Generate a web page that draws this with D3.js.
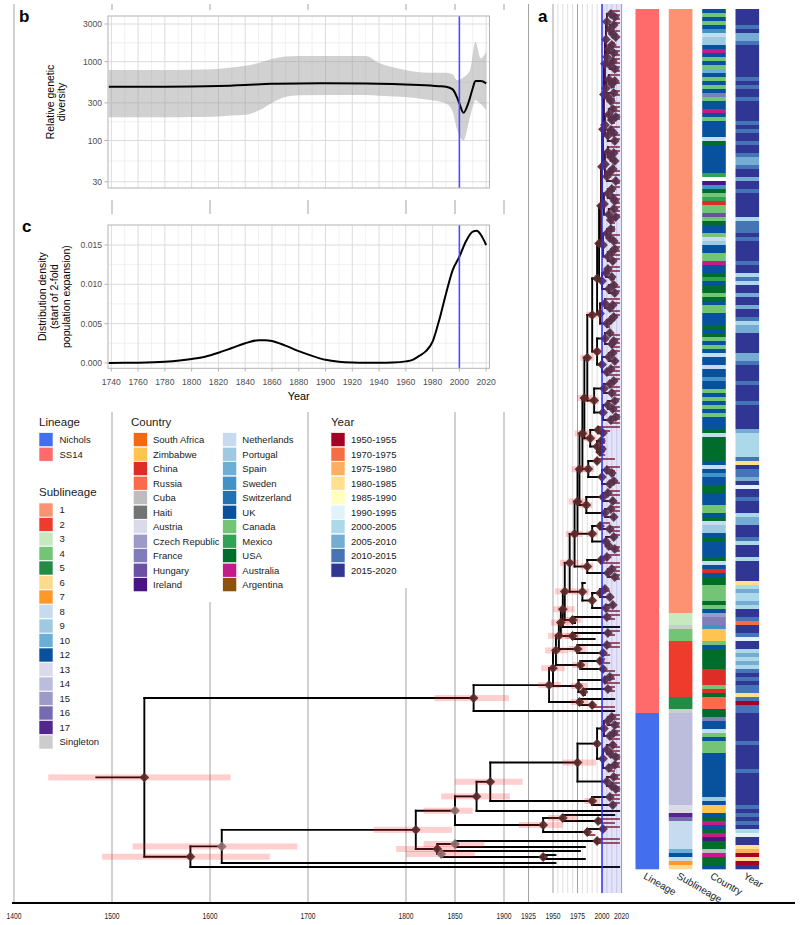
<!DOCTYPE html>
<html><head><meta charset="utf-8">
<script src="https://cdn.jsdelivr.net/npm/d3@7"></script>
<style>
body{margin:0;background:#fff}
svg{display:block;font-family:"Liberation Sans",Arial,Helvetica,sans-serif}
</style></head>
<body><svg id="fig" width="800" height="925"></svg>
<script>
/* ================= DATA ================= */
const treeAxisYears = [1400,1500,1600,1700,1800,1850,1900,1925,1950,1975,2000,2020];
const fineGridYears = [1955,1960,1965,1970,1980,1985,1990,1995,2005,2010,2015];
const rootStemStart = 1483;

// SS14 top comb: clades (t = tip; ")YEAR[lo-hi]" = node date and 95% HPD)
const ss14TopClades = [
 "((t,(t,t)2013)2009,((t,t)2012,(t,(t,t)2014)2011)2008)2005",
 "(((t,t)2010,(t,t)2012)2007,((t,t)2011,(t,t)2013)2008)2005",
 "((t,((t,t)2013,t)2010)2007,((t,t)2012,(t,t)2009)2006)2004",
 "(((t,t)2011,((t,t)2014,t)2010)2007,((t,(t,t)2012)2009,(t,t)2013)2006)2003",
 "((t,((t,t)2012,(t,t)2013)2009)2006,(((t,t)2011,t)2008,(t,t)2014)2005)2003",
 "(((t,t)2010,(t,(t,t)2013)2011)2006,((t,t)2012,((t,t)2014,t)2009)2007)2002",
 "(((t,t)2009,(t,(t,t)2012)2008)2005,(((t,t)2013,t)2010,(t,t)2011)2006)2001",
 "(((t,t)2006,(t,t)2010)2004,((t,t)2012,(t,t)2013)2007)2000",
 "((t,((t,t)2011,t)2008)2003,(((t,t)2012,t)2009,t)2005)1998"
];
const ss14TopNodes = ["2004","2003","2002","2001","2000","1999","1997","1995"];

const ss14MidClades = [
 "(((t,t)2008,((t,t)2012,t)2010)2003,(((t,t)2011,(t,t)2013)2007,((t,t)2009,t)2005)2000)1995[1989-1999]",
 "((((t,t)2012,t)2008,(t,t)2010)2002,(((t,t)2013,(t,t)2011)2006,((t,t)2014,t)2009)2001)1992[1986-1997]",
 "((t,(t,t)2001)1996,((t,t)1999,((t,t)2000,t)1998)1995)1988[1981-1994]",
 "((t,t)1995,((t,(t,t)2010)2005,((t,t)2012,t)2008)2000)1986[1979-1992]",
 "(((t,t)2006,(t,t)2011)2001,((t,t)2009,(t,t)2012)2003)1984[1977-1990]",
 "((t,(t,t)2008)1998,((t,t)2012,(t,(t,t)2013)2007)2004)1990[1984-1996]",
 "(((t,t)2005,t)1999,((t,t)2010,(t,t)2013)2006)1985[1978-1991]",
 "(t,(((t,t)2003,(t,t)2008)1998,((t,t)2011,t)2004)1990)1980[1972-1987]"
];
const ss14MidNodes = ["1990[1984-1995]","1985[1978-1992]","1982[1975-1990]","1980[1972-1988]",
 "1977[1969-1985]","1975[1966-1983]","1972[1963-1980]","1967[1957-1976]"];

const ss14LowClades = [
 "((t,t)2005,t)1970[1960-1979]",
 "t",
 "((t,t)2006,t)1970[1962-1978]",
 "((t,t)2005,(t,t)2001)1975[1966-1984]",
 "((t,t)1998,(t,t)2001)1978[1970-1986]",
 "(((t,t)2008,t)2003,((t,t)2006,t)1981)1976[1968-1985]",
 "(t,(t,t)1990)1977[1968-1986]",
 "t"
];
const ss14LowNodes = ["1962[1952-1973]","1960[1950-1972]","1958[1948-1970]","1956[1945-1967]",
 "1953[1942-1965]","1950[1938-1962]","1946[1935-1958]","1869[1829-1905]"];

const nicholsA = "(((((t,t)2010,(t,t)2013)2006,((t,t)2012,t)2008)2002,(((t,t)2011,(t,(t,t)2014)2009)2005,((t,t)2013,t)2007)2001)1995,((t,t)2012,(t,(t,t)2014)2010)2005)1975[1960-1994]";
const nicholsClades = [
 "((t,t)2008,(t,t)2011)1990[1982-1998]",
 "t",
 "((t,(t,t)1996)1960[1945-1975],((t,t)2001,t)1985)1940[1915-1960]",
 "(((t,t)1995,t)1850[1818-1880]*,(t,(t,t)1940)1836[1800-1870]*)1832[1790-1852]",
 "t",
 "t"
];
const nicholsNodes = ["1886[1850-1919]","1872[1836-1906]","1850[1818-1868]*","1810[1767-1847]",
 "1612[1521-1689]*","1580[1490-1661]"];
const rootNode = "1533[1435-1621]";

// per-tip strips (tree order, top to bottom)
const lineageRuns = [["SS14",176],["Nichols",39]];
const sublineageRuns = [["1",151],["3",3],["Singleton",1],["4",3],["2",14],["5",3],["Singleton",1],
 ["14",23],["13",2],["17",1],["16",1],["8",7],["10",1],["12",1],["8",1],["7",1],["6",1]];
const tipCountry =
 "UCUCUWNPPU"+"AUCUCEUCUC"+"UFCUUAUCUU"+"UUNSUUUUUU"+"UM-IWSCMKC"+"CHCSUUCNPU"+"UCCAUUSMUS"+
 "SCSUCCUUUS"+"USCUCUNUUN"+"UUWUUCUCUC"+"UCUUUSNSSS"+"SSSUNUWUUS"+"SUUUCCUSNP"+"PUSUUUUSNU"+
 "KUSSCCCCSC"+"UcFFWYYYCU"+"SSSSSKKKKC"+"KSRRRSSFUU"+"NCUCCCUUUU"+"UUUUUUUPUY"+"YUSAUSAISS"+"BASSU";
const tipYear =
 "jjjjijhhij"+"jjjjjjjiji"+"jjijjjjjij"+"ijjijjihhi"+"jjhjjijjjj"+"jjgiiijijj"+"jjjijjgigj"+
 "jhjjhjjigh"+"hjjjjjhhij"+"jjjijjjjij"+"jjjjjhgggg"+"ggidjiihjf"+"jjijjjghhj"+"jjigjjjgjj"+
 "jjjdghgghg"+"jjibjjifjj"+"ghghgijiji"+"idiaiijjjj"+"jjjijjjjjj"+"ijjjjjjjji"+"jijijgfjjd"+"cadaj";

// legends / palettes
const lineageNames = ["Nichols","SS14"];
const lineageColors = ["#436EEE","#FF6A6A"];
const sublineageNames = ["1","2","3","4","5","6","7","8","9","10","12","13","14","15","16","17","Singleton"];
const sublineageColors = ["#FC9272","#EF3B2C","#C7E9C0","#74C476","#238B45","#FED98E","#FE9929","#C6DBEF",
 "#9ECAE1","#6BAED6","#08519C","#DADAEB","#BCBDDC","#9E9AC8","#756BB1","#54278F","#CCCCCC"];
const countryNames = ["South Africa","Zimbabwe","China","Russia","Cuba","Haiti","Austria","Czech Republic",
 "France","Hungary","Ireland","Netherlands","Portugal","Spain","Sweden","Switzerland","UK","Canada",
 "Mexico","USA","Australia","Argentina"];
const countryCodes = "OYKRBXTcFHINPEWZUCMSAG";
const countryColors = ["#F16913","#FEC44F","#DE2D26","#FB6A4A","#BDBDBD","#737373","#DADAEB","#9E9AC8",
 "#807DBA","#6A51A3","#4A1486","#C6DBEF","#9ECAE1","#6BAED6","#4292C6","#2171B5","#08519C","#74C476",
 "#31A354","#006D2C","#C51B8A","#8C510A"];
const yearBins = ["1950-1955","1970-1975","1975-1980","1980-1985","1985-1990","1990-1995",
 "2000-2005","2005-2010","2010-2015","2015-2020"];
const yearCodes = "abcdefghij";
const yearColors = ["#A50026","#F46D43","#FDAE61","#FEE090","#FFFFBF","#E0F3F8","#ABD9E9","#74ADD1","#4575B4","#313695"];

// panel b: relative genetic diversity (median and 95% HPD)
const divYears  = [1738,1780,1800,1820,1840,1860,1880,1900,1930,1950,1970,1985,1990,1995,1998,2000,2003,2007,2009.6,2012,2016,2020];
const divMedian = [481,481,483,490,505,525,530,531,530,522,505,488,481,445,360,295,225,310,437,567,567,531];
const hpdYears  = [1738,1780,1800,1816,1830,1840,1850,1860,1870,1880,1930,1940,1956,1978,1990,1995,1998,2003,2008,2012,2016,2020];
const hpdLower  = [197,197,198,200,207,212,240,300,355,375,377,370,359,326,295,232,143,100,200,326,290,243];
const hpdUpper  = [783,783,790,800,840,885,960,1080,1160,1180,1180,960,805,723,723,690,585,630,783,1790,1100,1333];
const divTicks  = [30,100,300,1000,3000];
const divMinor  = [55,173,548,1732];

// panel c: density of start of 2-fold expansion
const densYears  = [1738,1760,1780,1800,1810,1820,1830,1840,1850,1855,1860,1870,1880,1890,1900,1910,1920,1930,1940,1950,1960,1965,1970,1975,1980,1985,1990,1995,2000,2005,2010,2013,2016,2020];
const densValues = [0,0.00003,0.00015,0.0005,0.0008,0.0013,0.0019,0.0025,0.0029,0.0029,0.0028,0.0022,0.0015,0.0009,0.0004,0.00015,0.00005,0.00002,0.00002,0.00005,0.0002,0.0004,0.0009,0.0015,0.0027,0.0055,0.0088,0.0118,0.0135,0.0155,0.0167,0.0168,0.0163,0.015];
const densTicks  = [0,0.005,0.010,0.015];
const densMinor  = [0.0025,0.0075,0.0125];
const panelYearTicks = [1740,1760,1780,1800,1820,1840,1860,1880,1900,1920,1940,1960,1980,2000,2020];
const panelYearMinor = [1750,1770,1790,1810,1830,1850,1870,1890,1910,1930,1950,1970,1990,2010];

/* ================= BUILD ================= */
const svg = d3.select("#fig");
function comb(parts, nodes){ let s=parts[0]; for(let k=1;k<parts.length;k++) s="("+s+","+parts[k]+")"+nodes[k-1]; return s; }
const ss14Top = comb(ss14TopClades, ss14TopNodes);
const ss14Mid = comb([ss14Top].concat(ss14MidClades), ss14MidNodes);
const ss14 = comb([ss14Mid].concat(ss14LowClades), ss14LowNodes);
const nichols = comb([nicholsA].concat(nicholsClades), nicholsNodes);
const newick = "("+ss14+","+nichols+")"+rootNode;

function parseTree(str){
  let i=0;
  const num=()=>{const s=i; while(i<str.length && /[0-9.]/.test(str[i])) i++; return parseFloat(str.slice(s,i));};
  const node=()=>{
    if(str[i]==='('){
      i++; const children=[node()];
      while(str[i]===','){ i++; children.push(node()); }
      i++;
      const n={children, date:num()};
      if(str[i]==='['){ i++; const lo=num(); i++; const hi=num(); i++; n.ci=[lo,hi]; }
      if(str[i]==='*'){ i++; n.weak=true; }
      return n;
    }
    i++; return {tip:true};
  };
  return node();
}
const root = d3.hierarchy(parseTree(newick));
const leaves = root.leaves();
const nTips = leaves.length;

const X = d3.scaleLinear().domain([1400,2020]).range([14,621.6]);
const Yrow = d3.scaleLinear().domain([0,nTips-1]).range([11,867]);
const step = Yrow(1)-Yrow(0);
const binMid = b => { const p=b.split("-").map(Number); return (p[0]+p[1])/2; };

leaves.forEach((l,i)=>{
  l.idx=i; l.y=Yrow(i);
  const yc = yearCodes.indexOf(tipYear[i]);
  const d = yc>=0 ? binMid(yearBins[yc]) : 2015;
  l.date = Math.max(d, l.parent ? l.parent.data.date + 0.6 : d);
});
root.eachAfter(n=>{ if(n.children){ n.date=n.data.date; n.y=(n.children[0].y+n.children[n.children.length-1].y)/2; } });

/* ----- background year lines ----- */
const gGrid = svg.append("g");
gGrid.selectAll("line.f").data(fineGridYears).join("line")
  .attr("x1",d=>X(d)).attr("x2",d=>X(d)).attr("y1",4).attr("y2",893)
  .attr("stroke","#dedede").attr("stroke-width",1);
gGrid.selectAll("line.m").data(treeAxisYears.filter(d=>d!==2000)).join("line")
  .attr("x1",d=>X(d)).attr("x2",d=>X(d)).attr("y1",4).attr("y2",d=>d>=1950?893:903)
  .attr("stroke","#a3a3a3").attr("stroke-width",1);

/* ----- white boxes (panels & legends) ----- */
[[15,10,512,190],[15,214,512,198],[118,412,184,190],[314,412,98,176]].forEach(b=>{
  svg.append("rect").attr("x",b[0]).attr("y",b[1]).attr("width",b[2]).attr("height",b[3]).attr("fill","#fff");
});

/* ----- panels b & c ----- */
const px = d3.scaleLinear().domain([1737.5,2022.5]).range([108,489.5]);
function panelGrid(g, top, bottom, hMajor, hMinor, yS){
  g.selectAll("line.vm").data(panelYearMinor).join("line").attr("x1",d=>px(d)).attr("x2",d=>px(d))
   .attr("y1",top).attr("y2",bottom).attr("stroke","#ededed").attr("stroke-width",0.8);
  g.selectAll("line.hm").data(hMinor).join("line").attr("y1",d=>yS(d)).attr("y2",d=>yS(d))
   .attr("x1",108).attr("x2",489.5).attr("stroke","#ededed").attr("stroke-width",0.8);
  g.selectAll("line.vM").data(panelYearTicks).join("line").attr("x1",d=>px(d)).attr("x2",d=>px(d))
   .attr("y1",top).attr("y2",bottom).attr("stroke","#dcdcdc").attr("stroke-width",1);
  g.selectAll("line.hM").data(hMajor).join("line").attr("y1",d=>yS(d)).attr("y2",d=>yS(d))
   .attr("x1",108).attr("x2",489.5).attr("stroke","#dcdcdc").attr("stroke-width",1);
}
// panel b
const yB = d3.scaleLog().domain([25,3790]).range([188,16]);
const gB = svg.append("g");
panelGrid(gB,16,188,divTicks,divMinor,yB);
gB.append("path").datum(hpdYears.map((y,i)=>[y,hpdLower[i],hpdUpper[i]]))
  .attr("d",d3.area().x(d=>px(d[0])).y0(d=>yB(d[1])).y1(d=>yB(d[2])).curve(d3.curveMonotoneX))
  .attr("fill","#999").attr("fill-opacity",0.45);
gB.append("path").datum(divYears.map((y,i)=>[y,divMedian[i]]))
  .attr("d",d3.line().x(d=>px(d[0])).y(d=>yB(d[1])).curve(d3.curveMonotoneX))
  .attr("fill","none").attr("stroke","#000").attr("stroke-width",2);
gB.append("line").attr("x1",px(2000)).attr("x2",px(2000)).attr("y1",16).attr("y2",188)
  .attr("stroke","#4d4dff").attr("stroke-width",1.6);
gB.append("rect").attr("x",108).attr("y",16).attr("width",381.5).attr("height",172)
  .attr("fill","none").attr("stroke","#b3b3b3");
gB.selectAll("line.tk").data(divTicks).join("line").attr("x1",104.5).attr("x2",108)
  .attr("y1",d=>yB(d)).attr("y2",d=>yB(d)).attr("stroke","#b3b3b3");
gB.selectAll("text.tk").data(divTicks).join("text").attr("x",102).attr("y",d=>yB(d)).attr("dy","0.35em")
  .attr("text-anchor","end").attr("font-size",8.6).attr("fill","#4d4d4d").text(d=>d);
gB.append("text").attr("transform","translate(54,102) rotate(-90)").attr("text-anchor","middle")
  .attr("font-size",10.5).text("Relative genetic");
gB.append("text").attr("transform","translate(65,102) rotate(-90)").attr("text-anchor","middle")
  .attr("font-size",10.5).text("diversity");

// panel c
const yC = d3.scaleLinear().domain([-0.00068,0.01754]).range([368.3,225]);
const gC = svg.append("g");
panelGrid(gC,225,368.3,densTicks,densMinor,yC);
gC.append("path").datum(densYears.map((y,i)=>[y,densValues[i]]))
  .attr("d",d3.line().x(d=>px(d[0])).y(d=>yC(d[1])).curve(d3.curveMonotoneX))
  .attr("fill","none").attr("stroke","#000").attr("stroke-width",2);
gC.append("line").attr("x1",px(2000)).attr("x2",px(2000)).attr("y1",225).attr("y2",368.3)
  .attr("stroke","#4d4dff").attr("stroke-width",1.6);
gC.append("rect").attr("x",108).attr("y",225).attr("width",381.5).attr("height",143.3)
  .attr("fill","none").attr("stroke","#b3b3b3");
gC.selectAll("line.tky").data(densTicks).join("line").attr("x1",104.5).attr("x2",108)
  .attr("y1",d=>yC(d)).attr("y2",d=>yC(d)).attr("stroke","#b3b3b3");
gC.selectAll("text.tky").data(densTicks).join("text").attr("x",102).attr("y",d=>yC(d)).attr("dy","0.35em")
  .attr("text-anchor","end").attr("font-size",8.6).attr("fill","#4d4d4d").text(d=>d3.format(".3f")(d));
gC.selectAll("line.tkx").data(panelYearTicks).join("line").attr("y1",368.3).attr("y2",371.5)
  .attr("x1",d=>px(d)).attr("x2",d=>px(d)).attr("stroke","#b3b3b3");
gC.selectAll("text.tkx").data(panelYearTicks).join("text").attr("x",d=>px(d)).attr("y",385)
  .attr("text-anchor","middle").attr("font-size",8.6).attr("fill","#4d4d4d").text(d=>d);
gC.append("text").attr("x",298.7).attr("y",400).attr("text-anchor","middle").attr("font-size",10.8).text("Year");
["Distribution density","(start of 2-fold","population expansion)"].forEach((t,k)=>{
  gC.append("text").attr("transform",`translate(${46+12*k},296.6) rotate(-90)`).attr("text-anchor","middle")
    .attr("font-size",10.5).text(t);
});

// panel letters
[["b",19,22],["c",22,232],["a",538,22]].forEach(p=>{
  svg.append("text").attr("x",p[1]).attr("y",p[2]).attr("font-size",17).attr("font-weight","bold").text(p[0]);
});

/* ----- legends ----- */
function legend(x, titleY, title, names, colors, rowY0, labelX){
  const g = svg.append("g");
  if(title) g.append("text").attr("x",x).attr("y",titleY).attr("font-size",11.5).attr("fill","#1a1a1a").text(title);
  names.forEach((n,k)=>{
    const cy = rowY0 + 14.5*k;
    g.append("rect").attr("x",x).attr("y",cy-7).attr("width",14).attr("height",14)
      .attr("fill",colors[k]).attr("stroke","#fff").attr("stroke-width",0.6);
    g.append("text").attr("x",labelX).attr("y",cy).attr("dy","0.35em").attr("font-size",9.5)
      .attr("fill","#1a1a1a").text(n);
  });
}
legend(39,426,"Lineage",lineageNames,lineageColors,439.7,59.5);
legend(39,496,"Sublineage",sublineageNames,sublineageColors,510,59.5);
legend(131,426,"Country",[],[],439.7,153);
legend(133.3,0,"",countryNames.slice(0,11),countryColors.slice(0,11),439.7,153);
legend(222.7,0,"",countryNames.slice(11),countryColors.slice(11),439.7,242.3);
legend(331,426,"Year",yearBins,yearColors,439.7,351);

/* ----- tree ----- */
const gT = svg.append("g");
const nodes = root.descendants();
const internal = nodes.filter(n=>n.children);
// branches
nodes.filter(n=>n.parent).forEach(n=>{
  const tipRecent = !n.children && n.parent.date>=1985;
  const col = tipRecent ? "#8b1010" : (n.children && n.parent.date>=1998 ? "#3a0606" : "#000");
  gT.append("line").attr("x1",X(n.parent.date)).attr("x2",X(n.date)).attr("y1",n.y).attr("y2",n.y)
    .attr("stroke",col).attr("stroke-width",tipRecent?1.5:1.9).attr("stroke-linecap","square");
});
internal.forEach(n=>{
  const ys = n.children.map(c=>c.y);
  gT.append("line").attr("x1",X(n.date)).attr("x2",X(n.date)).attr("y1",d3.min(ys)).attr("y2",d3.max(ys))
    .attr("stroke",n.date>=1998?"#3a0606":"#000").attr("stroke-width",1.9).attr("stroke-linecap","square");
});
gT.append("line").attr("x1",X(rootStemStart)).attr("x2",X(root.date)).attr("y1",root.y).attr("y2",root.y)
  .attr("stroke","#000").attr("stroke-width",1.9);
// HPD bars
gT.selectAll("rect.hpd").data(internal.filter(n=>n.data.ci)).join("rect")
  .attr("x",n=>X(n.data.ci[0])).attr("width",n=>X(n.data.ci[1])-X(n.data.ci[0]))
  .attr("y",n=>n.y-3).attr("height",6).attr("fill","#ff2020").attr("fill-opacity",0.22);
// node diamonds
const diamondType = {draw(ctx,size){const r=Math.sqrt(size/2); ctx.moveTo(0,-r); ctx.lineTo(r,0); ctx.lineTo(0,r); ctx.lineTo(-r,0); ctx.closePath();}};
gT.selectAll("path.nd").data(internal).join("path")
  .attr("d",d3.symbol().type(diamondType).size(48))
  .attr("transform",n=>`translate(${X(n.date)},${n.y})`)
  .attr("fill",n=>n.data.weak?"#8c6f6f":"#5a2a2a").attr("fill-opacity",0.92);

// 2000-2020 band and 2000 line
svg.append("rect").attr("x",X(2000)).attr("y",4).attr("width",X(2020)-X(2000)).attr("height",889)
  .attr("fill","#5a5af0").attr("fill-opacity",0.17);
svg.append("line").attr("x1",X(2000)).attr("x2",X(2000)).attr("y1",4).attr("y2",893)
  .attr("stroke","#2b2bff").attr("stroke-width",1.5);

/* ----- strips ----- */
function expandRuns(runs){ const a=[]; runs.forEach(r=>{ for(let k=0;k<r[1];k++) a.push(r[0]); }); return a; }
const tipLineage = expandRuns(lineageRuns);
const tipSub = expandRuns(sublineageRuns);
const colX = [635.5,668.8,702.2,735.5], colW = 23.6;
const colLabels = ["Lineage","Sublineage","Country","Year"];
const stripColor = [
  i=>lineageColors[lineageNames.indexOf(tipLineage[i])],
  i=>sublineageColors[sublineageNames.indexOf(tipSub[i])],
  i=>{const k=countryCodes.indexOf(tipCountry[i]); return k<0?"#fff":countryColors[k];},
  i=>{const k=yearCodes.indexOf(tipYear[i]); return k<0?"#fff":yearColors[k];}
];
const gS = svg.append("g");
colX.forEach((cx,c)=>{
  gS.append("g").selectAll("rect").data(d3.range(nTips)).join("rect")
    .attr("x",cx).attr("width",colW).attr("y",i=>Yrow(i)-step/2).attr("height",step+0.3)
    .attr("fill",stripColor[c]);
  gS.append("text").attr("transform",`translate(${cx+colW/2-4.5},878) rotate(30)`)
    .attr("font-size",10).attr("fill","#1a1a1a").text(colLabels[c]);
});

/* ----- bottom time axis ----- */
svg.append("line").attr("x1",12).attr("x2",795).attr("y1",903).attr("y2",903).attr("stroke","#000").attr("stroke-width",2);
svg.selectAll("text.ax").data(treeAxisYears).join("text").attr("x",d=>X(d)-7.5).attr("y",918.5)
  .attr("font-size",9.5).attr("textLength",15).attr("lengthAdjust","spacingAndGlyphs")
  .attr("fill","#222").text(d=>d);
</script>
</body></html>
